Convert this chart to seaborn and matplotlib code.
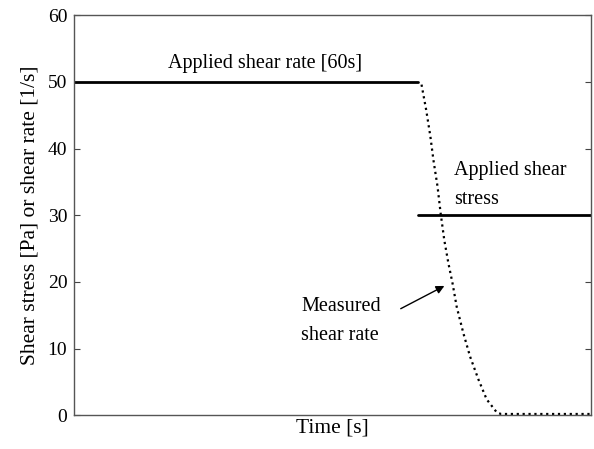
import numpy as np
import pandas as pd
import matplotlib.pyplot as plt
import seaborn as sns

# applied shear rate (solid, top) and applied shear stress (solid, right)
rate_t = [0, 66.6]
rate_v = [50, 50]
stress_t = [66.6, 100]
stress_v = [30, 30]

# measured shear rate (dotted)
meas_t = [67.2, 68.1, 68.9, 69.5, 70.3, 70.9, 71.6, 72.4, 73.2, 74.0, 75.3,
          76.6, 78.2, 79.8, 81.8, 82.6, 90, 100]
meas_v = [49.6, 45.8, 41.9, 38.3, 34.3, 30.3, 26.3, 22.8, 19.8, 16.3, 12.3,
          8.8, 5.4, 2.4, 0.4, 0.2, 0.2, 0.2]

sns.set_style("ticks")
plt.rcParams['font.family'] = ['Liberation Serif', 'DejaVu Serif']
plt.rcParams['xtick.direction'] = 'in'
plt.rcParams['ytick.direction'] = 'in'
plt.rcParams['text.color'] = 'black'
plt.rcParams['axes.labelcolor'] = 'black'
plt.rcParams['ytick.labelcolor'] = 'black'

fig, ax = plt.subplots(figsize=(5.94, 4.49), dpi=100)
fig.subplots_adjust(left=0.125, right=0.995, top=0.966, bottom=0.075)

sns.lineplot(x=rate_t, y=rate_v, color='black', linewidth=2, ax=ax)
sns.lineplot(x=stress_t, y=stress_v, color='black', linewidth=2, ax=ax)
sns.lineplot(x=meas_t, y=meas_v, color='black', linewidth=1.6, linestyle=':', ax=ax, sort=False)

ax.set_xlim(0, 100)
ax.set_ylim(0, 60)
ax.set_xticks([])
ax.set_yticks([0, 10, 20, 30, 40, 50, 60])
ax.tick_params(axis='y', labelsize=14, right=True, length=4, color='#444444', pad=5)
for s in ax.spines.values():
    s.set_color('#555555')
    s.set_linewidth(1)

ax.set_xlabel('Time [s]', fontsize=15.5, labelpad=2)
ax.set_ylabel('Shear stress [Pa] or shear rate [1/s]', fontsize=15.5, labelpad=6)

ax.text(36.9, 52.7, 'Applied shear rate [60s]', fontsize=14.5, ha='center', va='center')
ax.text(73.5, 34.6, 'Applied shear\nstress', fontsize=14.5, ha='left', va='center', linespacing=1.7)
ax.text(43.9, 14.2, 'Measured\nshear rate', fontsize=14.5, ha='left', va='center', linespacing=1.7)
ax.annotate('', xy=(72.1, 19.6), xytext=(62.7, 15.8),
            arrowprops=dict(arrowstyle='-|>', color='black', lw=1, mutation_scale=12))

plt.savefig('out.png', dpi=100)
